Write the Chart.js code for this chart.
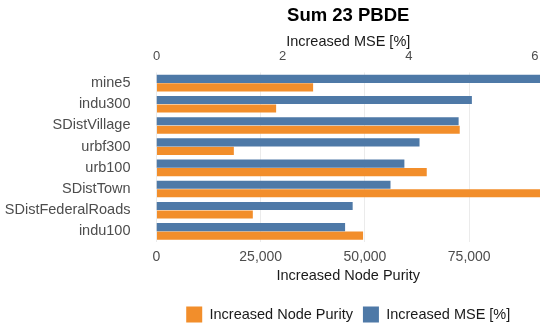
<!DOCTYPE html>
<html>
<head>
<meta charset="utf-8">
<script src="https://cdn.jsdelivr.net/npm/chart.js@4"></script>
<style>
  html, body { margin: 0; padding: 0; background: #fff; }
  #wrap { width: 550px; height: 327px; }
</style>
</head>
<body>
<div id="wrap"><canvas id="chart" width="550" height="327"></canvas></div>
<script>
// Data
const categories = ['mine5', 'indu300', 'SDistVillage', 'urbf300', 'urb100', 'SDistTown', 'SDistFederalRoads', 'indu100'];
const mseValues = [6.08, 5.0, 4.79, 4.17, 3.93, 3.71, 3.11, 2.99];
const purityValues = [37560, 28690, 72720, 18550, 64810, 91970, 23100, 49540];
const mseTicks = [0, 2, 4, 6];
const purityTicks = [0, 25000, 50000, 75000];

const FONT = '"Liberation Sans", Arial, sans-serif';
Chart.defaults.font.family = FONT;

// only keep the round tick values (no extra tick at max)
function keepTicks(list) {
  return function (scale) {
    scale.ticks = list.map(v => ({ value: v }));
  };
}

new Chart(document.getElementById('chart'), {
  type: 'bar',
  data: {
    labels: categories,
    datasets: [
      {
        label: 'Increased MSE [%]',
        data: mseValues,
        xAxisID: 'x2',
        backgroundColor: '#4e79a7',
        categoryPercentage: 0.8,
        barPercentage: 0.96,
      },
      {
        label: 'Increased Node Purity',
        data: purityValues,
        xAxisID: 'x',
        backgroundColor: '#f28e2b',
        categoryPercentage: 0.8,
        barPercentage: 0.96,
      },
    ],
  },
  options: {
    indexAxis: 'y',
    responsive: false,
    animation: false,
    layout: { padding: { left: 5, right: 10, top: 0, bottom: -5.5 } },
    plugins: {
      title: {
        display: true,
        text: 'Sum 23 PBDE',
        fullSize: false,
        color: '#000',
        font: { size: 18.5, weight: 'bold' },
        padding: { top: 5, bottom: 4 },
      },
      legend: {
        position: 'bottom',
        fullSize: false,
        reverse: true,
        labels: {
          boxWidth: 16,
          boxHeight: 16,
          color: '#1a1a1a',
          font: { size: 14.5 },
          padding: 10,
        },
      },
      tooltip: { enabled: false },
    },
    scales: {
      y: {
        grid: { display: false, drawTicks: false },
        border: { display: false },
        ticks: { color: '#4d4d4d', font: { size: 14.5 }, padding: 26, autoSkip: false },
        afterFit: scale => { scale.width = 151.5; },
      },
      x2: {
        position: 'top',
        min: 0,
        max: Math.max(...mseValues),
        grid: { display: false, drawTicks: false },
        border: { display: false },
        afterBuildTicks: keepTicks(mseTicks),
        ticks: { color: '#4d4d4d', font: { size: 13, lineHeight: 1 }, padding: 9.5, maxRotation: 0 },
        title: {
          display: true,
          text: 'Increased MSE [%]',
          color: '#1a1a1a',
          font: { size: 14.5, lineHeight: 1 },
          padding: { top: 4, bottom: 0 },
        },
        afterFit: scale => { scale.height = 41.3; },
      },
      x: {
        position: 'bottom',
        min: 0,
        max: Math.max(...purityValues),
        grid: { color: '#ebebeb', lineWidth: 1, drawTicks: false },
        border: { display: false },
        afterBuildTicks: keepTicks(purityTicks),
        ticks: { color: '#4d4d4d', font: { size: 14, lineHeight: 1 }, padding: 8.5, maxRotation: 0 },
        title: {
          display: true,
          text: 'Increased Node Purity',
          color: '#1a1a1a',
          font: { size: 14.5, lineHeight: 1 },
          padding: { top: 4, bottom: 13 },
        },
        afterFit: scale => { scale.height = 54.5; },
      },
    },
  },
});
</script>
</body>
</html>
